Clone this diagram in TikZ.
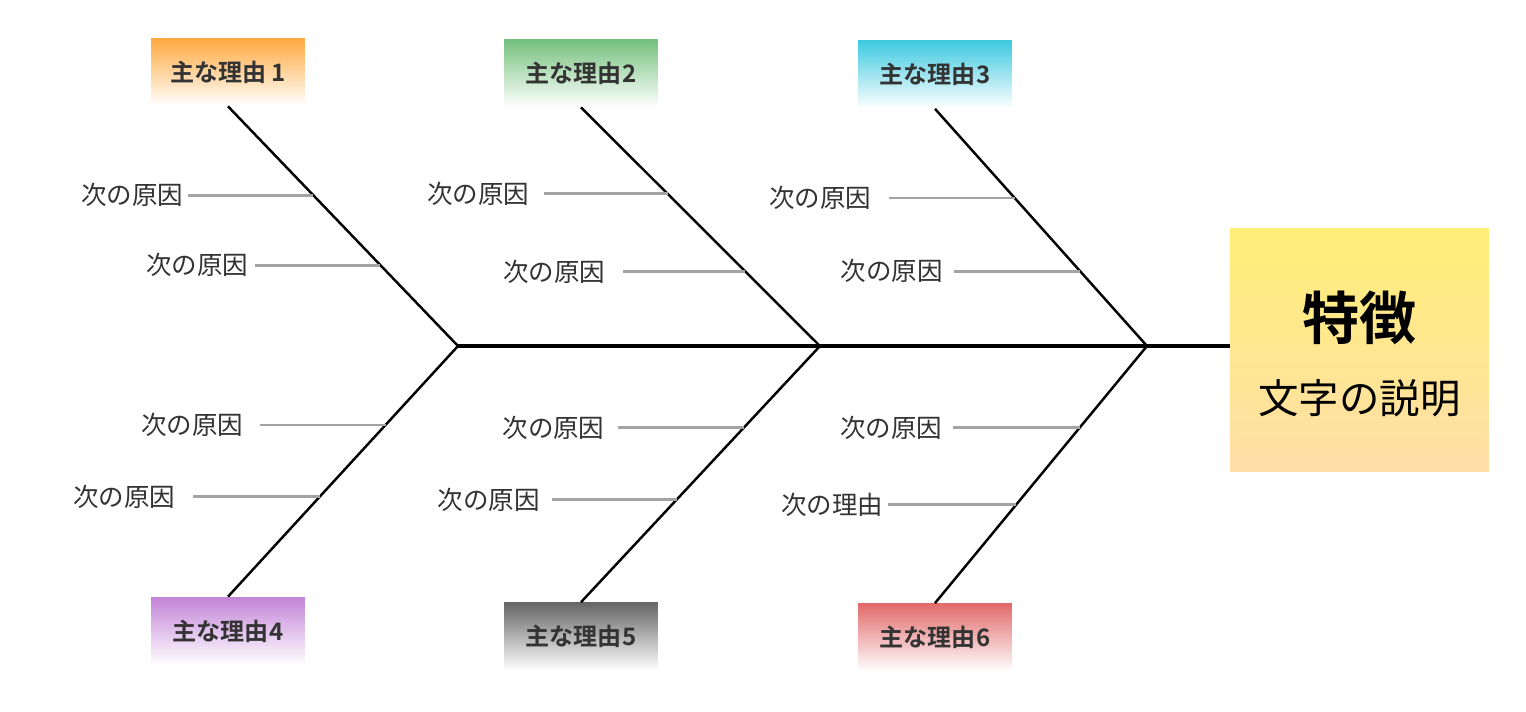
\documentclass[tikz,border=0pt]{standalone}
\usepackage{fontspec}
\setmainfont{Noto Sans CJK JP}[BoldFont={Noto Sans CJK JP Bold}]
\usetikzlibrary{positioning}
\definecolor{txtgray}{HTML}{333333}
\definecolor{subgray}{HTML}{A3A3A3}
\definecolor{c1}{HTML}{FFA93E}
\definecolor{c2}{HTML}{74C07C}
\definecolor{c3}{HTML}{3EC9E0}
\definecolor{c4}{HTML}{C384D8}
\definecolor{c5}{HTML}{666666}
\definecolor{c6}{HTML}{E26A6A}
\definecolor{ftop}{HTML}{FFEF78}
\definecolor{fbot}{HTML}{FFDEA8}
\begin{document}
\begin{tikzpicture}[x = 0.02cm, y = -0.02cm,
  reason/.style = {shade, top color = #1, bottom color = white, minimum width = 3.08cm, minimum height = 1.36cm, inner sep = 0pt, text = txtgray, font = \fontsize{13.7}{16}\selectfont\bfseries},
  cause/.style = {inner xsep = 0pt, inner ysep = 0.06cm, text = txtgray, font = \fontsize{14.5}{17}\selectfont},
  bone/.style = {draw = black, line width = 1.4pt},
  spine/.style = {draw = black, line width = 2.8pt},
  sub/.style = {draw = subgray, line width = 1.6pt}]
\useasboundingbox (0,0) rectangle (1526,711);
\node[shade, top color = ftop, bottom color = fbot, minimum width = 5.18cm, minimum height = 4.88cm] (feat) at (1359.5,350) {};
\node[font = \fontsize{32.5}{36}\selectfont\bfseries] (ftitle) at ([yshift = 0.64cm]feat.center) {特徴};
\node[font = \fontsize{23}{27}\selectfont] (fdesc) at ([yshift = -0.96cm]feat.center) {文字の説明};
\coordinate (j1) at (458,346);
\coordinate (j2) at (820,346);
\coordinate (j3) at (1147,346);
\draw[spine] (j1) -- (j1 -| feat.west);
\node[reason = c1] (r1) at (228,72) {主な理由 1};
\node[reason = c2] (r2) at (581,73) {主な理由2};
\node[reason = c3] (r3) at (935,74.5) {主な理由3};
\node[reason = c4] (r4) at (228,631) {主な理由4};
\node[reason = c5] (r5) at (581,636.5) {主な理由5};
\node[reason = c6] (r6) at (935,637.5) {主な理由6};
\draw[bone] (j1) -- (r1.south) coordinate[pos = 0.629] (k11) coordinate[pos = 0.3375] (k12);
\draw[bone] (j2) -- (r2.south) coordinate[pos = 0.6375] (k21) coordinate[pos = 0.3125] (k22);
\draw[bone] (j3) -- (r3.south) coordinate[pos = 0.624] (k31) coordinate[pos = 0.315] (k32);
\draw[bone] (j1) -- (r4.north) coordinate[pos = 0.315] (k41) coordinate[pos = 0.6016] (k42);
\draw[bone] (j2) -- (r5.north) coordinate[pos = 0.319] (k51) coordinate[pos = 0.599] (k52);
\draw[bone] (j3) -- (r6.north) coordinate[pos = 0.318] (k61) coordinate[pos = 0.616] (k62);
\coordinate (s11) at ([xshift = -2.5cm]k11);
\coordinate (s12) at ([xshift = -2.5cm]k12);
\coordinate (s21) at ([xshift = -2.48cm]k21);
\coordinate (s22) at ([xshift = -2.44cm]k22);
\coordinate (s31) at ([xshift = -2.52cm]k31);
\coordinate (s32) at ([xshift = -2.52cm]k32);
\coordinate (s41) at ([xshift = -2.52cm]k41);
\coordinate (s42) at ([xshift = -2.54cm]k42);
\coordinate (s51) at ([xshift = -2.52cm]k51);
\coordinate (s52) at ([xshift = -2.5cm]k52);
\coordinate (s61) at ([xshift = -2.54cm]k61);
\coordinate (s62) at ([xshift = -2.56cm]k62);
\node[cause, left = 0.1cm of s11] (c11) {次の原因};
\node[cause, left = 0.14cm of s12] (c12) {次の原因};
\node[cause, left = 0.28cm of s21] (c21) {次の原因};
\node[cause, left = 0.36cm of s22] (c22) {次の原因};
\node[cause, left = 0.34cm of s31] (c31) {次の原因};
\node[cause, left = 0.22cm of s32] (c32) {次の原因};
\node[cause, left = 0.32cm of s41] (c41) {次の原因};
\node[cause, left = 0.34cm of s42] (c42) {次の原因};
\node[cause, left = 0.26cm of s51] (c51) {次の原因};
\node[cause, left = 0.24cm of s52] (c52) {次の原因};
\node[cause, left = 0.2cm of s61] (c61) {次の原因};
\node[cause, left = 0.1cm of s62] (c62) {次の理由};
\draw[sub] (s11) -- (k11);
\draw[sub] (s12) -- (k12);
\draw[sub] (s21) -- (k21);
\draw[sub] (s22) -- (k22);
\draw[sub] (s31) -- (k31);
\draw[sub] (s32) -- (k32);
\draw[sub] (s41) -- (k41);
\draw[sub] (s42) -- (k42);
\draw[sub] (s51) -- (k51);
\draw[sub] (s52) -- (k52);
\draw[sub] (s61) -- (k61);
\draw[sub] (s62) -- (k62);
\end{tikzpicture}
\end{document}
